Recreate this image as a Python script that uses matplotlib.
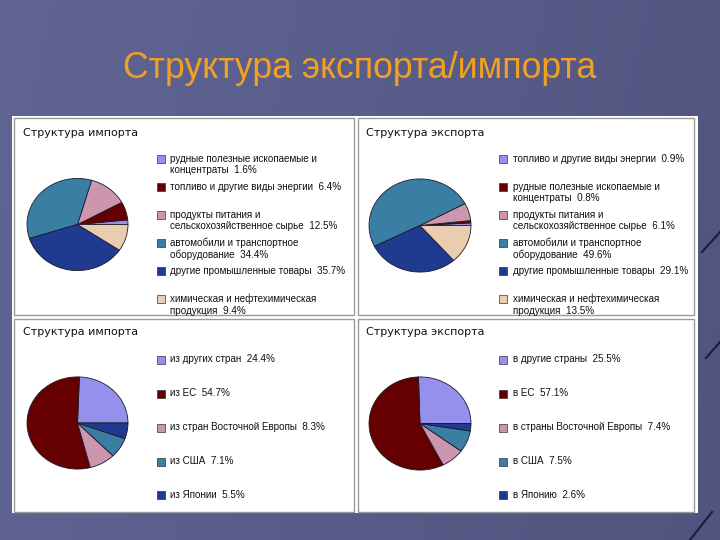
import numpy as np
import matplotlib
matplotlib.use("Agg")
import matplotlib.pyplot as plt
from matplotlib.patches import Rectangle

W, H = 720, 540

title = "Структура экспорта/импорта"
import_title = "Структура импорта"
export_title = "Структура экспорта"

imp_goods_labels = ["рудные полезные ископаемые и\nконцентраты",
                    "топливо и другие виды энергии",
                    "продукты питания и\nсельскохозяйственное сырье",
                    "автомобили и транспортное\nоборудование",
                    "другие промышленные товары",
                    "химическая и нефтехимическая\nпродукция"]
imp_goods_values = [1.6, 6.4, 12.5, 34.4, 35.7, 9.4]

exp_goods_labels = ["топливо и другие виды энергии",
                    "рудные полезные ископаемые и\nконцентраты",
                    "продукты питания и\nсельскохозяйственное сырье",
                    "автомобили и транспортное\nоборудование",
                    "другие промышленные товары",
                    "химическая и нефтехимическая\nпродукция"]
exp_goods_values = [0.9, 0.8, 6.1, 49.6, 29.1, 13.5]

imp_geo_labels = ["из других стран", "из ЕС", "из стран Восточной Европы",
                  "из США", "из Японии"]
imp_geo_values = [24.4, 54.7, 8.3, 7.1, 5.5]

exp_geo_labels = ["в другие страны", "в ЕС", "в страны Восточной Европы",
                  "в США", "в Японию"]
exp_geo_values = [25.5, 57.1, 7.4, 7.5, 2.6]

palette = ["#9590EC", "#660000", "#CC96AE", "#3B7EA3", "#1F3A8F", "#EACDB0"]

fig = plt.figure(figsize=(W / 100, H / 100), dpi=100)

# background
bg = fig.add_axes([0, 0, 1, 1])
xx = np.linspace(0, 1, 300)
yy = np.linspace(0, 1, 200)
X, Y = np.meshgrid(xx, yy)
c_left = np.array([97, 101, 148]) / 255
c_right = np.array([80, 84, 126]) / 255
t = np.clip(X * 0.85 + Y * 0.15, 0, 1)[..., None]
img = c_left * (1 - t) + c_right * t
bg.imshow(img, extent=[0, W, H, 0], aspect="auto", zorder=0)
bg.set_xlim(0, W)
bg.set_ylim(H, 0)
bg.axis("off")

# decorative strokes at right edge
for (x0, y0, x1, y1) in [(702, 252, 720, 232), (706, 358, 720, 342), (690, 540, 712, 512)]:
    bg.plot([x0, x1], [y0, y1], color="#1c1e33", lw=1.5, zorder=1)

bg.text(360, 68, title, color="#F2A024", fontsize=25.7, ha="center", va="center",
        family="Liberation Sans", zorder=2)

# white area and panels
bg.add_patch(Rectangle((12, 116), 686, 397, facecolor="white", edgecolor="none", zorder=2))
panels = [(14, 118, 340, 197), (358, 118, 336, 197), (14, 319, 340, 193), (358, 319, 336, 193)]
for (px, py, pw, ph) in panels:
    bg.add_patch(Rectangle((px, py), pw, ph, facecolor="white", edgecolor="#9a9a9a",
                           lw=1.0, zorder=3))


def pie_ax(cx, cy, rx, ry, values, colors):
    ax = fig.add_axes([(cx - rx - 1) / W, 1 - (cy + ry + 1) / H,
                       (2 * rx + 2) / W, (2 * ry + 2) / H])
    ax.pie(values, colors=colors, startangle=0, counterclock=True,
           wedgeprops=dict(edgecolor="#1a1a2a", linewidth=0.6))
    ax.set_aspect("auto")
    ax.set_xlim(-1.02, 1.02)
    ax.set_ylim(-1.02, 1.02)
    ax.axis("off")
    return ax


def legend(x_mark, x_text, rows_y, labels, values, colors):
    for y, lab, v, c in zip(rows_y, labels, values, colors):
        bg.add_patch(Rectangle((x_mark, y - 4), 8, 8, facecolor=c, edgecolor="#333333",
                               lw=0.5, zorder=5))
        bg.text(x_text, y - 5.5, f"{lab}  {v}%", fontsize=7.1, ha="left", va="top",
                color="#111111", linespacing=1.2, family="Liberation Sans", zorder=5)


rows6 = [159, 187, 215, 243, 271, 299]
rows5 = [360, 394, 428, 462, 495]

bg.text(23, 133, import_title, fontsize=8, ha="left", va="center", color="#111111", zorder=5)
bg.text(366, 133, export_title, fontsize=8, ha="left", va="center", color="#111111", zorder=5)
bg.text(23, 332, import_title, fontsize=8, ha="left", va="center", color="#111111", zorder=5)
bg.text(366, 332, export_title, fontsize=8, ha="left", va="center", color="#111111", zorder=5)

pie_ax(77.5, 224.5, 50.5, 46, imp_goods_values, palette[:6])
pie_ax(420, 225.5, 51, 46.5, exp_goods_values, palette[:6])
pie_ax(77.5, 423, 50.5, 46, imp_geo_values, palette[:5])
pie_ax(420, 423.5, 51, 46.5, exp_geo_values, palette[:5])

legend(157, 170, rows6, imp_goods_labels, imp_goods_values, palette)
legend(499, 513, rows6, exp_goods_labels, exp_goods_values, palette)
legend(157, 170, rows5, imp_geo_labels, imp_geo_values, palette)
legend(499, 513, rows5, exp_geo_labels, exp_geo_values, palette)

fig.savefig("out.png", dpi=100)
